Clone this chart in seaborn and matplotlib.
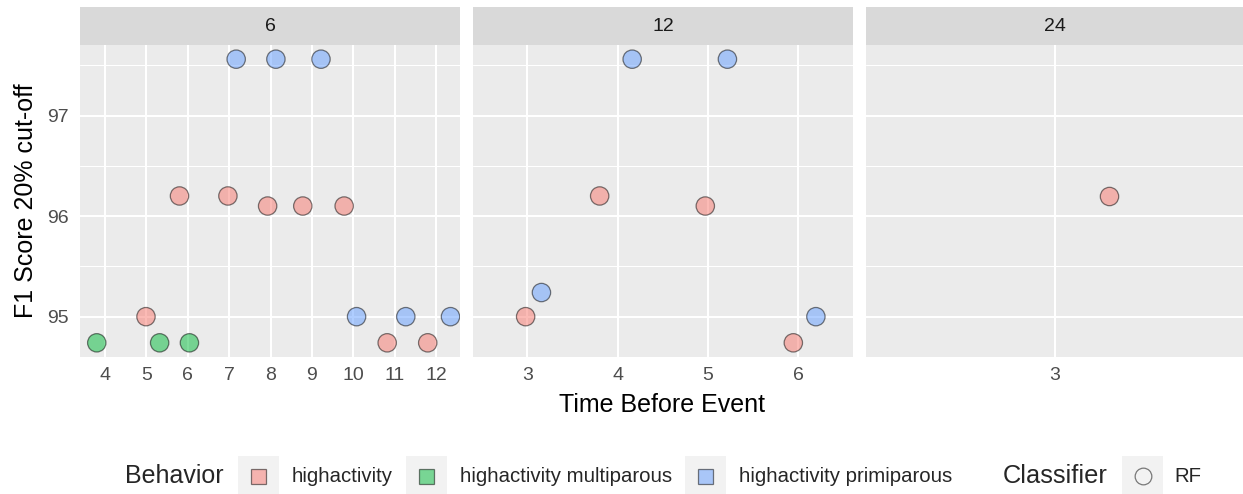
import matplotlib
matplotlib.use("Agg")
import matplotlib.pyplot as plt
import pandas as pd
import seaborn as sns
from matplotlib.patches import Rectangle
from matplotlib.lines import Line2D

sns.set_style("white")
plt.rcParams["font.family"] = ["Liberation Sans", "DejaVu Sans"]

# ---- data ---------------------------------------------------------------
behaviors = ["highactivity", "highactivity multiparous", "highactivity primiparous"]
colors = ["#F8766D", "#00BA38", "#619CFF"]
windows = ["6", "12", "24"]

# window 6
w6_time = [3.80, 5.32, 6.04, 4.99, 5.80, 6.97, 7.93, 8.78, 9.78, 10.82, 11.80,
           7.17, 8.13, 9.22, 10.08, 11.27, 12.35]
w6_f1 = [94.74, 94.74, 94.74, 95.00, 96.20, 96.20, 96.10, 96.10, 96.10, 94.74, 94.74,
         97.56, 97.56, 97.56, 95.00, 95.00, 95.00]
w6_behavior = [1, 1, 1, 0, 0, 0, 0, 0, 0, 0, 0, 2, 2, 2, 2, 2, 2]

# window 12
w12_time = [2.98, 3.80, 4.97, 5.945, 3.155, 4.16, 5.215, 6.195]
w12_f1 = [95.00, 96.20, 96.10, 94.74, 95.24, 97.56, 97.56, 95.00]
w12_behavior = [0, 0, 0, 0, 2, 2, 2, 2]

# window 24
w24_time = [3.145]
w24_f1 = [96.20]
w24_behavior = [0]

x_breaks = [list(range(4, 13)), [3, 4, 5, 6], [3]]
x_limits = [(3.395, 12.58), (2.397, 6.606), (2.5, 3.5)]
y_limits = (94.599, 97.701)
y_breaks = [95, 96, 97]
y_minor = [95.5, 96.5, 97.5]

frames = []
for win, t, f, b in [("6", w6_time, w6_f1, w6_behavior),
                     ("12", w12_time, w12_f1, w12_behavior),
                     ("24", w24_time, w24_f1, w24_behavior)]:
    frames.append(pd.DataFrame({"window": win, "time": t, "f1": f,
                                "behavior": [behaviors[i] for i in b]}))
df = pd.concat(frames, ignore_index=True)
palette = dict(zip(behaviors, colors))

# ---- layout -------------------------------------------------------------
W, H = 1243, 494
fig = plt.figure(figsize=(W / 100, H / 100), dpi=100)
fig.patch.set_facecolor("white")


def fx(px):
    return px / W


def fy(py):
    return 1 - py / H


panel_left = [80, 473, 866]
panel_width = [380, 380, 377]
panel_top, panel_bottom = 45, 357
strip_top = 7

for k, win in enumerate(windows):
    ax = fig.add_axes([fx(panel_left[k]), fy(panel_bottom),
                       panel_width[k] / W, (panel_bottom - panel_top) / H])
    ax.set_facecolor("#EBEBEB")
    ax.set_axisbelow(True)
    sub = df[df["window"] == win]
    sns.scatterplot(data=sub, x="time", y="f1", hue="behavior", palette=palette,
                    hue_order=behaviors, s=175, alpha=0.5, edgecolor="black",
                    linewidth=0.9, legend=False, ax=ax, zorder=3)
    ax.set_xlim(*x_limits[k])
    ax.set_ylim(*y_limits)
    ax.set_xticks(x_breaks[k])
    ax.set_yticks(y_breaks)
    ax.set_yticks(y_minor, minor=True)
    ax.grid(True, which="major", color="white", linewidth=1.5)
    ax.grid(True, which="minor", axis="y", color="white", linewidth=0.75)
    ax.tick_params(axis="x", which="major", length=4.5, width=1.1, color="#333333",
                   labelsize=14, labelcolor="#4D4D4D", pad=2.5)
    ax.tick_params(which="minor", length=0)
    if k == 0:
        ax.tick_params(axis="y", which="major", length=4.5, width=1.1, color="#333333",
                       labelsize=14, labelcolor="#4D4D4D", pad=3.5)
    else:
        ax.tick_params(axis="y", which="major", length=0, labelleft=False)
    for s in ax.spines.values():
        s.set_visible(False)
    ax.set_xlabel("")
    ax.set_ylabel("")

    # facet strip
    sax = fig.add_axes([fx(panel_left[k]), fy(panel_top),
                        panel_width[k] / W, (panel_top - strip_top) / H])
    sax.set_facecolor("#D9D9D9")
    sax.set_xticks([])
    sax.set_yticks([])
    for s in sax.spines.values():
        s.set_visible(False)
    sax.text(0.5, 0.5, win, ha="center", va="center", fontsize=14,
             color="#1A1A1A", transform=sax.transAxes)

# axis titles
fig.text(fx(661.5), fy(412), "Time Before Event", ha="center", va="baseline",
         fontsize=18, color="black")
fig.text(fx(26), fy(201), "F1 Score 20% cut-off", ha="center", va="center",
         rotation=90, fontsize=18, color="black")

# ---- legend -------------------------------------------------------------
leg_y = 476
fig.text(fx(125), fy(leg_y), "Behavior", ha="left", va="center", fontsize=18)
key_left = [238, 406, 685]
for kl, name, col in zip(key_left, behaviors, colors):
    fig.add_artist(Rectangle((fx(kl), fy(leg_y + 20.5)), 41 / W, 41 / H,
                             transform=fig.transFigure, facecolor="#F2F2F2",
                             edgecolor="none"))
    fig.add_artist(Rectangle((fx(kl + 13), fy(leg_y + 7.5)), 15 / W, 15 / H,
                             transform=fig.transFigure,
                             facecolor=matplotlib.colors.to_rgba(col, 0.5),
                             edgecolor=(0, 0, 0, 0.5), linewidth=0.9))
    fig.text(fx(kl + 54), fy(leg_y), name, ha="left", va="center", fontsize=14.7)

fig.text(fx(1003), fy(leg_y), "Classifier", ha="left", va="center", fontsize=18.3)
fig.add_artist(Rectangle((fx(1122), fy(leg_y + 20.5)), 41 / W, 41 / H,
                         transform=fig.transFigure, facecolor="#F2F2F2",
                         edgecolor="none"))
fig.add_artist(Line2D([fx(1142.5)], [fy(leg_y)], transform=fig.transFigure,
                      marker="o", markersize=12, markerfacecolor="none",
                      markeredgecolor=(0, 0, 0, 0.5), markeredgewidth=0.9,
                      linestyle="none"))
fig.text(fx(1174), fy(leg_y), "RF", ha="left", va="center", fontsize=14.7)

fig.savefig("out.png", dpi=100)
